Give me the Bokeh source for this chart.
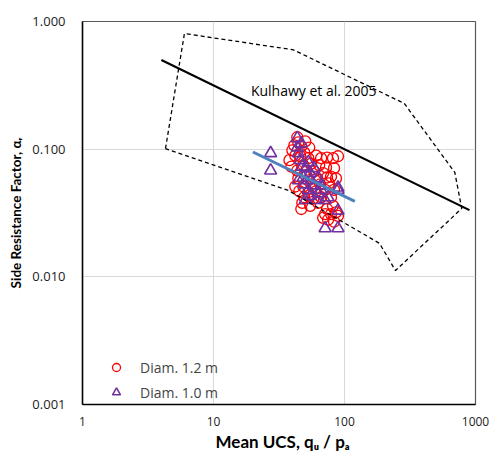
from bokeh.plotting import figure
from bokeh.models import Range1d, FixedTicker, CustomJSTickFormatter, Label, Legend, LegendItem, Title
from bokeh.embed import file_html
from bokeh.resources import INLINE

# ---- data ----
d12_ucs = [43.6, 44.4, 46.8, 50.2, 40.0, 42.1, 38.0, 46.0, 49.3, 52.9,
           60.8, 66.3, 73.6, 81.7, 89.2, 64.1, 72.3, 83.2, 55.7, 48.5,
           43.6, 50.2, 58.7, 68.7, 78.9, 86.1, 61.9, 73.6, 44.4, 52.9,
           42.1, 48.5, 56.7, 65.2, 76.2, 45.2, 52.9, 60.8, 71.1, 83.2,
           49.3, 57.7, 66.3, 78.9, 47.6, 54.7, 46.8, 62.9, 73.6, 81.7,
           71.1, 78.9, 86.1, 74.9, 83.2, 89.2, 68.7, 39.3, 53.8, 41.4]
d12_alpha = [0.124, 0.113, 0.105, 0.115, 0.098, 0.089, 0.082, 0.088, 0.094, 0.085,
             0.089, 0.085, 0.086, 0.085, 0.088, 0.075, 0.072, 0.071, 0.077, 0.075,
             0.068, 0.066, 0.067, 0.065, 0.061, 0.059, 0.059, 0.060, 0.059, 0.057,
             0.051, 0.051, 0.051, 0.053, 0.054, 0.047, 0.046, 0.047, 0.048, 0.048,
             0.042, 0.041, 0.042, 0.042, 0.038, 0.036, 0.034, 0.038, 0.034, 0.036,
             0.031, 0.031, 0.032, 0.028, 0.027, 0.030, 0.029, 0.073, 0.103, 0.107]

d10_ucs = [43.6, 43.6, 44.4, 27.3, 27.3, 52.9, 51.1, 54.7, 48.5, 55.7,
           62.9, 66.3, 89.2, 89.2, 52.9, 62.9, 74.9, 50.2, 71.1, 89.2,
           71.1, 89.2, 46.0, 47.6, 58.7, 57.7, 49.3, 60.8, 46.8, 54.7,
           66.3, 44.4]
d10_alpha = [0.122, 0.103, 0.093, 0.093, 0.068, 0.079, 0.071, 0.065, 0.060, 0.057,
             0.059, 0.052, 0.050, 0.048, 0.048, 0.045, 0.042, 0.040, 0.040, 0.033,
             0.024, 0.024, 0.082, 0.073, 0.071, 0.052, 0.053, 0.040, 0.111, 0.043,
             0.048, 0.057]

kul_x = [4.0, 900.0]
kul_y = [0.5, 0.0333]

trend_x = [20.0, 120.0]
trend_y = [0.095, 0.039]

env_x = [4.3, 6.0, 40.7, 286.0, 695.0, 785.0, 245.0, 185.0, 37.3, 4.3]
env_y = [0.101, 0.805, 0.60, 0.228, 0.0657, 0.0343, 0.0112, 0.0183, 0.0475, 0.101]

x_ticks = [1, 10, 100, 1000]
y_ticks = [0.001, 0.01, 0.1, 1.0]

FONT = "Open Sans"
TFONT = "Lato"

p = figure(width=489, height=451, x_axis_type="log", y_axis_type="log",
           x_range=Range1d(1, 1000), y_range=Range1d(0.001, 1),
           output_backend="svg", toolbar_location=None,
           min_border_left=82, min_border_right=14, min_border_top=21, min_border_bottom=47)

p.background_fill_color = "white"
p.border_fill_color = "white"
p.outline_line_color = "#595959"
p.outline_line_width = 1.2

for g, t in ((p.xgrid, x_ticks), (p.ygrid, y_ticks)):
    g.ticker = FixedTicker(ticks=t)
    g.grid_line_color = "#d9d9d9"
    g.grid_line_width = 1

p.xaxis.ticker = FixedTicker(ticks=x_ticks)
p.yaxis.ticker = FixedTicker(ticks=y_ticks)
p.xaxis.formatter = CustomJSTickFormatter(code="return tick.toFixed(0)")
p.yaxis.formatter = CustomJSTickFormatter(code="return tick.toFixed(3)")

for ax in (p.xaxis, p.yaxis):
    ax.axis_line_color = "black"
    ax.axis_line_width = 1.5
    ax.major_tick_line_color = None
    ax.minor_tick_line_color = None
    ax.major_tick_in = 0
    ax.major_tick_out = 0
    ax.minor_tick_in = 0
    ax.minor_tick_out = 0
    ax.major_label_text_font = FONT
    ax.major_label_text_color = "#222222"

p.xaxis.major_label_text_font_size = "12px"
p.yaxis.major_label_text_font_size = "13px"
p.xaxis.major_label_standoff = 12
p.yaxis.major_label_standoff = 17
p.yaxis.axis_label = "Side Resistance Factor, \u03b1\u1d63"
p.yaxis.axis_label_standoff = 5
p.yaxis.axis_label_text_font = TFONT
p.yaxis.axis_label_text_font_size = "13.5px"
p.yaxis.axis_label_text_font_style = "bold"
p.yaxis.axis_label_text_color = "black"

# x axis title as a below-panel title so that it can be offset like the original
xtitle = Title(text="Mean UCS, q\u1d64 / p\u2090", align="left", offset=133,
               text_font=TFONT, text_font_size="17px", text_font_style="bold",
               text_color="black", standoff=0)
p.add_layout(xtitle, "below")

r12 = p.scatter(d12_ucs, d12_alpha, marker="circle", size=11, fill_color=None,
                line_color="#ff0000", line_width=1.3)
r10 = p.scatter(d10_ucs, d10_alpha, marker="triangle", size=12, fill_color=None,
                line_color="#7030a0", line_width=1.6)

p.line(env_x, env_y, line_color="black", line_width=1.3, line_dash="4 3")
p.line(kul_x, kul_y, line_color="black", line_width=2.2)
p.line(trend_x, trend_y, line_color="#4f81bd", line_width=3)

p.add_layout(Label(x=19.3, y=0.288, text="Kulhawy et al. 2005", text_font=FONT,
                   text_font_size="14px", text_baseline="middle", text_align="left",
                   text_color="black"))

legend = Legend(items=[LegendItem(label="Diam. 1.2 m", renderers=[r12]),
                       LegendItem(label="Diam. 1.0 m", renderers=[r10])],
                location=(24, 1), padding=0, spacing=3, glyph_height=22, glyph_width=20,
                label_height=22, label_standoff=14, border_line_color=None,
                background_fill_alpha=0, label_text_font=FONT, label_text_font_size="14px")
p.add_layout(legend)

open("out.html", "w").write(file_html(p, INLINE))
